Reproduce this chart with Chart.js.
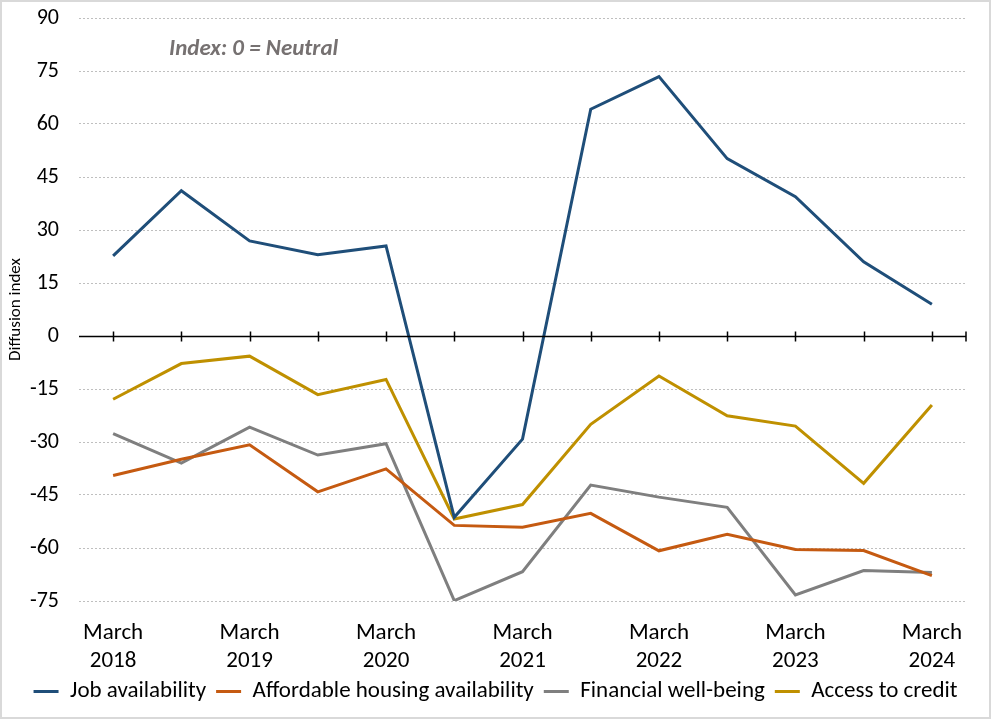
<!DOCTYPE html>
<html>
<head>
<meta charset="utf-8">
<script src="https://cdn.jsdelivr.net/npm/chart.js@4.4.1/dist/chart.umd.min.js"></script>
<style>
  html, body { margin: 0; padding: 0; background: #fff; }
  #wrap {
    width: 991px;
    height: 719px;
    box-sizing: border-box;
    border: 2px solid #d9d9d9;
    position: relative;
  }
</style>
</head>
<body>
<div id="wrap"><canvas id="chart"></canvas></div>
<script>
// Survey periods (March and September of each year)
const periods = [
  "March 2018", "September 2018", "March 2019", "September 2019",
  "March 2020", "September 2020", "March 2021", "September 2021",
  "March 2022", "September 2022", "March 2023", "September 2023",
  "March 2024"
];

const jobAvailability = [22.7, 41.1, 26.9, 23.0, 25.5, -51.3, -29.2, 64.2, 73.4, 50.2, 39.4, 21.0, 9.0];
const affordableHousing = [-39.5, -34.9, -30.8, -44.1, -37.6, -53.6, -54.1, -50.2, -60.8, -56.1, -60.4, -60.7, -67.8];
const financialWellBeing = [-27.6, -36.0, -25.8, -33.7, -30.5, -74.9, -66.7, -42.2, -45.6, -48.5, -73.3, -66.4, -66.9];
const accessToCredit = [-17.9, -7.8, -5.7, -16.6, -12.3, -51.8, -47.7, -25.0, -11.3, -22.6, -25.5, -41.7, -19.5];

const yTicks = [-75, -60, -45, -30, -15, 0, 15, 30, 45, 60, 75, 90];

const FONT = "Carlito, Calibri, Lato, sans-serif";

// Solid zero line with category tick marks, plus the "Index" note
const zeroLinePlugin = {
  id: "zeroLine",
  afterDatasetsDraw: function (chart) {
    const ctx = chart.ctx;
    const area = chart.chartArea;
    const x = chart.scales.x;
    const y0 = Math.round(chart.scales.y.getPixelForValue(0)) + 0.5;
    ctx.save();
    ctx.strokeStyle = "#000";
    ctx.lineWidth = 1.5;
    ctx.beginPath();
    ctx.moveTo(area.left, y0);
    ctx.lineTo(area.right, y0);
    for (let i = 0; i < periods.length; i++) {
      const px = Math.round(x.getPixelForValue(i)) + 0.5;
      ctx.moveTo(px, y0 - 5);
      ctx.lineTo(px, y0 + 5);
    }
    ctx.moveTo(area.right, y0 - 5);
    ctx.lineTo(area.right, y0 + 5);
    ctx.stroke();
    ctx.restore();
  },
  beforeDatasetsDraw: function (chart) {
    const ctx = chart.ctx;
    const area = chart.chartArea;
    ctx.save();
    ctx.font = "italic bold 23px " + FONT;
    ctx.fillStyle = "#767171";
    ctx.textBaseline = "middle";
    ctx.fillText("Index: 0 = Neutral", area.left + 90, area.top + 31);
    ctx.restore();
  },
};

function series(label, data, color) {
  return {
    label: label,
    data: data,
    borderColor: color,
    backgroundColor: color,
    borderWidth: 3,
    pointRadius: 0,
    pointHoverRadius: 0,
    tension: 0,
  };
}

new Chart(document.getElementById("chart"), {
  type: "line",
  data: {
    labels: periods,
    datasets: [
      series("Job availability", jobAvailability, "#1f4e79"),
      series("Affordable housing availability", affordableHousing, "#c55a11"),
      series("Financial well-being", financialWellBeing, "#7f7f7f"),
      series("Access to credit", accessToCredit, "#bf9000"),
    ],
  },
  options: {
    responsive: true,
    maintainAspectRatio: false,
    animation: false,
    layout: {
      padding: { top: 0, left: 0, right: 0, bottom: 4 },
    },
    scales: {
      x: {
        offset: true,
        grid: { display: false, drawTicks: false },
        border: { display: false },
        ticks: {
          autoSkip: false,
          maxRotation: 0,
          padding: 18,
          color: "#000",
          font: { family: FONT, size: 23, lineHeight: 1.22 },
          callback: function (value, index) {
            if (index % 2 !== 0) return "";
            return periods[index].split(" ");
          },
        },
        afterFit: function (scale) {
          scale.height = 69;
          scale.paddingRight = 23;
        },
      },
      y: {
        min: -75,
        max: 90,
        afterBuildTicks: function (scale) {
          scale.ticks = yTicks.map(function (v) { return { value: v }; });
        },
        afterFit: function (scale) {
          scale.width = 77;
          scale.paddingTop = 16;
        },
        grid: {
          drawTicks: false,
          lineWidth: 1,
          color: function (c) {
            return c.tick && c.tick.value === 0 ? "rgba(0,0,0,0)" : "#bfbfbf";
          },
        },
        border: { display: false, dash: [2, 2] },
        ticks: {
          padding: 20,
          color: "#000",
          font: { family: FONT, size: 22 },
        },
        title: {
          display: true,
          text: "Diffusion index",
          color: "#000",
          font: { family: FONT, size: 17 },
          padding: { top: 4, bottom: 2 },
        },
      },
    },
    plugins: {
      legend: {
        position: "bottom",
        labels: {
          usePointStyle: true,
          pointStyle: "line",
          pointStyleWidth: 25,
          color: "#000",
          padding: 10,
          font: { family: FONT, size: 23 },
        },
      },
      tooltip: { enabled: false },
    },
  },
  plugins: [zeroLinePlugin],
});
</script>
</body>
</html>
